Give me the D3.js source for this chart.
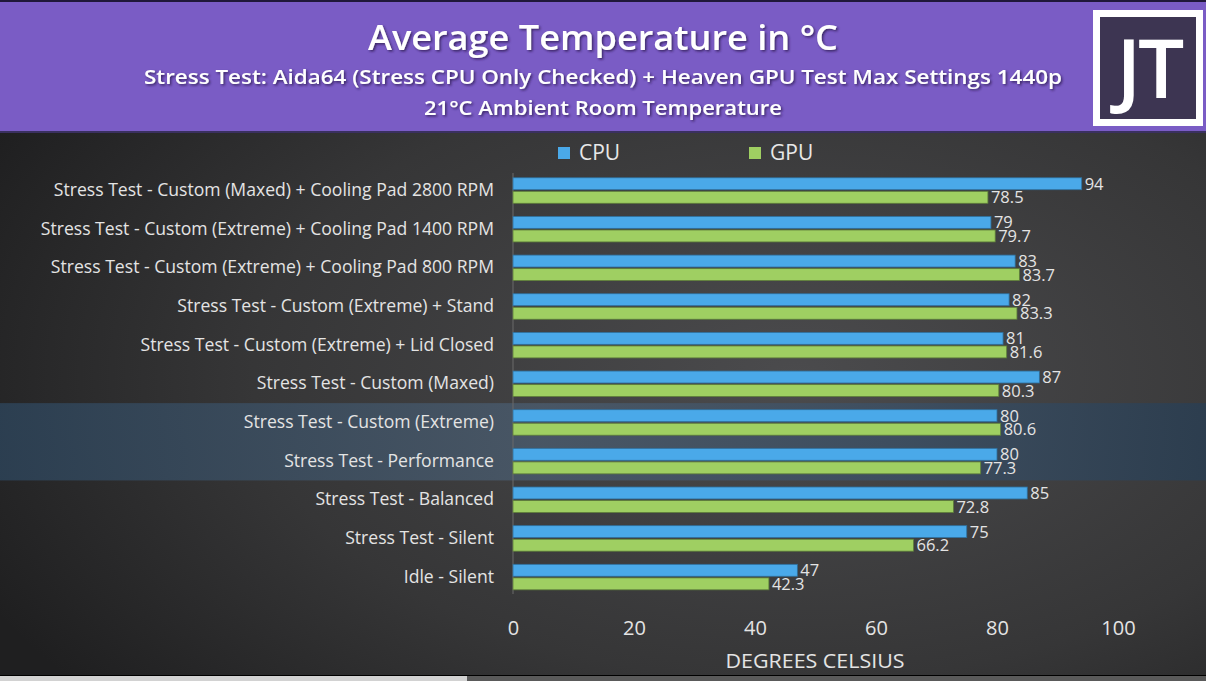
<!DOCTYPE html>
<html><head><meta charset="utf-8">
<script src="https://cdn.jsdelivr.net/npm/d3@7"></script>
<style>
html,body{margin:0;padding:0;background:#000;overflow:hidden}
svg{display:block}
text{font-family:"Open Sans","Noto Sans",sans-serif}
</style></head><body>
<svg id="c" width="1206" height="681"></svg>
<script>
const categories = [
  "Stress Test - Custom (Maxed) + Cooling Pad 2800 RPM",
  "Stress Test - Custom (Extreme) + Cooling Pad 1400 RPM",
  "Stress Test - Custom (Extreme) + Cooling Pad 800 RPM",
  "Stress Test - Custom (Extreme) + Stand",
  "Stress Test - Custom (Extreme) + Lid Closed",
  "Stress Test - Custom (Maxed)",
  "Stress Test - Custom (Extreme)",
  "Stress Test - Performance",
  "Stress Test - Balanced",
  "Stress Test - Silent",
  "Idle - Silent"
];
const cpuValues = [94, 79, 83, 82, 81, 87, 80, 80, 85, 75, 47];
const gpuValues = [78.5, 79.7, 83.7, 83.3, 81.6, 80.3, 80.6, 77.3, 72.8, 66.2, 42.3];
const seriesNames = ["CPU", "GPU"];
const seriesColors = ["#4aa9e9", "#9fcf62"];
const xTicks = [0, 20, 40, 60, 80, 100];
const highlighted = ["Stress Test - Custom (Extreme)", "Stress Test - Performance"];
const title = "Average Temperature in °C";
const subtitle1 = "Stress Test: Aida64 (Stress CPU Only Checked) + Heaven GPU Test Max Settings 1440p";
const subtitle2 = "21°C Ambient Room Temperature";
const xTitle = "DEGREES CELSIUS";

const W = 1206, H = 681;
const svg = d3.select("#c");
const defs = svg.append("defs");

// background gradient
const rg = defs.append("radialGradient").attr("id","bg")
  .attr("cx","0.66").attr("cy","0.55").attr("r","0.75");
rg.append("stop").attr("offset","0").attr("stop-color","#4b4b4d");
rg.append("stop").attr("offset","0.6").attr("stop-color","#363637");
rg.append("stop").attr("offset","1").attr("stop-color","#1f1f20");
svg.append("rect").attr("width",W).attr("height",H).attr("fill","url(#bg)");

// highlight gradient
const hg = defs.append("linearGradient").attr("id","hl").attr("x1","0").attr("x2","1");
hg.append("stop").attr("offset","0").attr("stop-color","#2d4358");
hg.append("stop").attr("offset","0.45").attr("stop-color","#4a5a6b");
hg.append("stop").attr("offset","0.75").attr("stop-color","#3c4f63");
hg.append("stop").attr("offset","1").attr("stop-color","#2a3e52");

const shadow = defs.append("filter").attr("id","sh").attr("x","-5%").attr("y","-20%").attr("width","110%").attr("height","140%");
shadow.append("feDropShadow").attr("dx",1.5).attr("dy",1.5).attr("stdDeviation",1.2).attr("flood-color","#2a1a50").attr("flood-opacity",0.8);

// scales
const x = d3.scaleLinear().domain([0,100]).range([513,1118]);
const y = d3.scaleBand().domain(categories).range([171.2,596.4]).paddingInner(0.34).paddingOuter(0.17);
const ys = d3.scaleBand().domain(seriesNames).range([0,y.bandwidth()]).paddingInner(0.12);

// highlight band
const step = y.step();
const hTop = d3.min(highlighted, c => y(c)) - step*y.paddingInner()/2;
const hBot = d3.max(highlighted, c => y(c)) + y.bandwidth() + step*y.paddingInner()/2;
svg.append("rect").attr("x",0).attr("width",W).attr("y",hTop).attr("height",hBot-hTop)
  .attr("fill","url(#hl)").attr("opacity",0.85);

// header
svg.append("rect").attr("x",0).attr("y",0).attr("width",W).attr("height",131).attr("fill","#7a5cc5");
svg.append("rect").attr("x",0).attr("y",0).attr("width",W).attr("height",2).attr("fill","#20183a");
svg.append("rect").attr("x",0).attr("y",131).attr("width",W).attr("height",2).attr("fill","#3a3060");

svg.append("text").attr("x",603).attr("y",50).attr("text-anchor","middle")
  .attr("font-size",34).attr("font-weight",600).attr("fill","#fff").attr("filter","url(#sh)")
  .attr("textLength",470).attr("lengthAdjust","spacingAndGlyphs")
  .text(title);
svg.append("text").attr("x",603).attr("y",84).attr("text-anchor","middle")
  .attr("font-size",19).attr("font-weight",600).attr("fill","#fff").attr("filter","url(#sh)")
  .attr("textLength",918).attr("lengthAdjust","spacingAndGlyphs")
  .text(subtitle1);
svg.append("text").attr("x",603).attr("y",115).attr("text-anchor","middle")
  .attr("font-size",19).attr("font-weight",600).attr("fill","#fff").attr("filter","url(#sh)")
  .attr("textLength",358).attr("lengthAdjust","spacingAndGlyphs")
  .text(subtitle2);

// logo
svg.append("rect").attr("x",1093).attr("y",10).attr("width",110).attr("height",116).attr("fill","#ffffff");
svg.append("rect").attr("x",1100).attr("y",17).attr("width",96).attr("height",102).attr("fill","#3d3552");
svg.append("text").attr("x",1149).attr("y",98).attr("text-anchor","middle")
  .attr("font-size",82).attr("font-weight",600).attr("fill","#fff")
  .attr("letter-spacing",-3).text("JT");

// legend
const leg = svg.append("g");
const legX = [558, 749];
seriesNames.forEach((s,i)=>{
  leg.append("rect").attr("x",legX[i]).attr("y",147).attr("width",12).attr("height",12).attr("fill",seriesColors[i]);
  leg.append("text").attr("x",legX[i]+21).attr("y",160).attr("font-size",21).attr("fill","#e8e8e8").text(s);
});

// vertical axis line
svg.append("line").attr("x1",x(0)).attr("x2",x(0)).attr("y1",173).attr("y2",594)
  .attr("stroke","#6a6a6a").attr("stroke-width",1);

// category labels
const yAxis = d3.axisLeft(y).tickSize(0).tickPadding(19);
const ya = svg.append("g").attr("transform",`translate(${x(0)},0)`).call(yAxis);
ya.select(".domain").remove();
ya.selectAll("text").attr("font-size",17.6).attr("fill","#e4e4e4")
  .attr("font-family","'Open Sans','Noto Sans',sans-serif");

// bars
const data = categories.map((c,i)=>({c, vals:[cpuValues[i], gpuValues[i]]}));
const g = svg.append("g");
data.forEach(d=>{
  d.vals.forEach((v,j)=>{
    const s = seriesNames[j];
    const yy = y(d.c) + ys(s);
    g.append("rect").attr("x",x(0)).attr("y",yy).attr("width",x(v)-x(0)).attr("height",ys.bandwidth())
      .attr("fill",seriesColors[j]).attr("stroke", j===0 ? "#2f6f9c" : "#5e7d3a").attr("stroke-width",0.8);
    g.append("text").attr("x",x(v)+3).attr("y",yy+ys.bandwidth()/2+6)
      .attr("font-size",16.5).attr("fill","#e4e4e4").text(v);
  });
});

// x axis
const xAxis = d3.axisBottom(x).tickValues(xTicks).tickSize(0).tickPadding(0);
const xa = svg.append("g").attr("transform","translate(0,620)").call(xAxis);
xa.select(".domain").remove();
xa.selectAll("text").attr("font-size",20).attr("fill","#e4e4e4").attr("dy","0.75em")
  .attr("font-family","'Open Sans','Noto Sans',sans-serif");

svg.append("text").attr("x",815).attr("y",668).attr("text-anchor","middle")
  .attr("font-size",20.5).attr("fill","#e4e4e4")
  .attr("textLength",179).attr("lengthAdjust","spacingAndGlyphs").text(xTitle);

// bottom video strip
svg.append("rect").attr("x",0).attr("y",675).attr("width",W).attr("height",6).attr("fill","#000");
svg.append("rect").attr("x",0).attr("y",676).attr("width",467).attr("height",5).attr("fill","#d2d2d2");
svg.append("rect").attr("x",467).attr("y",676).attr("width",W-467).attr("height",5).attr("fill","#5a5a5a");
</script>
</body></html>
